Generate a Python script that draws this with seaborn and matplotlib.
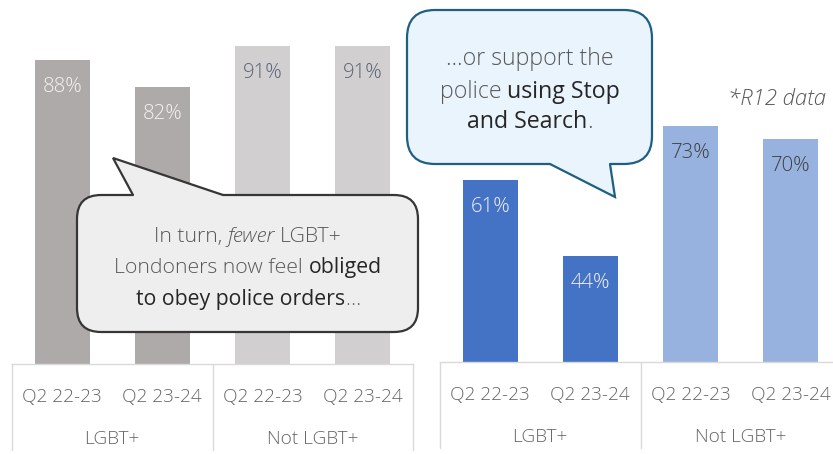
import matplotlib
matplotlib.use("Agg")
import matplotlib.pyplot as plt
import seaborn as sns
import pandas as pd
from matplotlib.patches import FancyBboxPatch, Polygon
from matplotlib.transforms import blended_transform_factory

# ---------------- data ----------------
categories = ["Q2 22-23", "Q2 23-24", "Q2 22-23", "Q2 23-24"]
groups = ["LGBT+", "LGBT+", "Not LGBT+", "Not LGBT+"]
group_names = ["LGBT+", "Not LGBT+"]
obey_values = [88, 82, 91, 91]          # feel obliged to obey police orders
stop_search_values = [61, 44, 73, 70]   # support police using Stop and Search
footnote = "*R12 data"

# ---------------- styling ----------------
sns.set_theme(style="white")
FONT = ["Open Sans", "DejaVu Sans"]
plt.rcParams["font.family"] = FONT

W, H = 833, 454
fig = plt.figure(figsize=(W / 100, H / 100), dpi=100)
renderer = fig.canvas.get_renderer()

STYLES = {
    "n": dict(fontweight="light", fontstyle="normal", color="#595959"),
    "i": dict(fontweight="light", fontstyle="italic", color="#595959"),
    "b": dict(fontweight="normal", fontstyle="normal", color="#262626"),
}


def measure(ax, s, size, **kw):
    t = ax.text(0, 0, s, fontsize=size, **kw)
    w = t.get_window_extent(renderer).width
    t.remove()
    return w


def px_axes(left, right, bottom_y, height):
    return fig.add_axes([left / W, (H - bottom_y) / H, (right - left) / W, height / H])


ax1 = px_axes(12, 413, 364, 360)
ax2 = px_axes(440, 841, 362, 360)

# fit sizes of labels
tick_size = 10 * 80 / measure(ax1, "Q2 22-23", 10, fontweight="light")
val_size = 10 * 40 / measure(ax1, "88%", 10, fontweight="light")


def draw_panel(ax, values, colors, label_colors, ymin):
    keys = [f"{g} {c}" for g, c in zip(groups, categories)]
    df = pd.DataFrame({"key": keys, "value": values})
    sns.barplot(data=df, x="key", y="value", hue="key", order=keys, hue_order=keys,
                palette=dict(zip(keys, colors)), legend=False, width=0.55,
                saturation=1, ax=ax, edgecolor="none")
    ax.set_ylim(ymin, ymin + 80)
    ax.set_xlim(-0.5, 3.5)
    ax.set_xticks([])
    ax.set_yticks([])
    ax.set_xlabel("")
    ax.set_ylabel("")
    for sp in ["top", "left", "right"]:
        ax.spines[sp].set_visible(False)
    ax.spines["bottom"].set_color("#d9d9d9")
    ax.spines["bottom"].set_linewidth(1.0)
    ax.patch.set_alpha(0)

    hpx = 360.0
    tr = blended_transform_factory(ax.transData, ax.transAxes)
    for i, (v, lc) in enumerate(zip(values, label_colors)):
        ax.annotate(f"{v}%", xy=(i, v), xytext=(0, -32), textcoords="offset pixels",
                    ha="center", va="baseline", fontsize=val_size,
                    fontweight="light", color=lc)
        ax.text(i, -38 / hpx, categories[i], transform=tr, ha="center",
                va="baseline", fontsize=tick_size, fontweight="light", color="#666666")
    for j, g in enumerate(group_names):
        ax.text(2 * j + 0.5, -80 / hpx, g, transform=tr, ha="center",
                va="baseline", fontsize=tick_size, fontweight="light", color="#666666")
    for x in [-0.5, 1.5, 3.5]:
        ax.plot([x, x], [0, -86 / hpx], transform=tr, color="#d9d9d9", lw=1.0,
                clip_on=False)


draw_panel(ax1, obey_values, ["#aeaaa9", "#aeaaa9", "#d1cfd0", "#d1cfd0"],
           ["#f2f2f2", "#f2f2f2", "#5b6477", "#5b6477"], 20.4)
draw_panel(ax2, stop_search_values, ["#4472c4", "#4472c4", "#98b2e0", "#98b2e0"],
           ["#f2f2f2", "#f2f2f2", "#404040", "#404040"], 20.5)

# ---------------- overlay (callouts) ----------------
ov = fig.add_axes([0, 0, 1, 1])
ov.set_xlim(0, W)
ov.set_ylim(H, 0)
ov.axis("off")
ov.patch.set_alpha(0)


def bubble(x0, y0, x1, y1, r, base, tip, face, edge, lw):
    box = FancyBboxPatch((x0, y0), x1 - x0, y1 - y0,
                         boxstyle=f"round,pad=0,rounding_size={r}",
                         fc=face, ec=edge, lw=lw, zorder=2)
    ov.add_patch(box)
    (bx1, by), (bx2, _) = base
    inward = 4 if tip[1] < by else -4
    poly = Polygon([(bx1, by + inward), (bx1, by), tip, (bx2, by), (bx2, by + inward)],
                   closed=True, fc=face, ec="none", zorder=3)
    ov.add_patch(poly)
    ov.plot([bx1, tip[0], bx2], [by, tip[1], by], color=edge, lw=lw, zorder=4,
            solid_joinstyle="miter")


def line_width(pieces, size):
    sp = measure(ov, "x x", size, **STYLES["n"]) - measure(ov, "xx", size, **STYLES["n"])
    total = 0
    widths = []
    for k, (txt, st, gap) in enumerate(pieces):
        w = measure(ov, txt, size, **STYLES[st])
        widths.append(w)
        total += w + (sp if (gap and k > 0) else 0)
    return total, widths, sp


def rich_line(cx, y, pieces, size):
    total, widths, sp = line_width(pieces, size)
    x = cx - total / 2
    for k, ((txt, st, gap), w) in enumerate(zip(pieces, widths)):
        if gap and k > 0:
            x += sp
        ov.text(x, y, txt, ha="left", va="baseline", fontsize=size, zorder=5, **STYLES[st])
        x += w


# grey callout
bubble(77, 195, 418, 332, 24, [(133, 195), (223, 195)], (113, 158),
       "#eeeeee", "#363636", 1.6)
grey_lines = [
    [("In turn,", "n", False), ("fewer", "i", True), ("LGBT+", "n", True)],
    [("Londoners now feel", "n", False), ("obliged", "b", True)],
    [("to obey police orders", "b", False), ("\u2026", "n", False)],
]
gsize = 10 * 268 / line_width(grey_lines[1], 10)[0]
for pieces, yb in zip(grey_lines, [242, 273, 305]):
    rich_line(248, yb, pieces, gsize)

# blue callout
bubble(407, 10, 652, 164, 28, [(550, 164), (610, 164)], (615, 197),
       "#eaf4fc", "#1f5f80", 1.6)
blue_lines = [
    [("\u2026or support the", "n", False)],
    [("police", "n", False), ("using Stop", "b", True)],
    [("and Search", "b", False), (".", "n", False)],
]
bsize = 10 * 180 / line_width(blue_lines[1], 10)[0]
for pieces, yb in zip(blue_lines, [65, 98, 128]):
    rich_line(530, yb, pieces, bsize)

# footnote
fsize = 10 * 98 / measure(ov, footnote, 10, **STYLES["i"])
ov.text(777, 105, footnote, ha="center", va="baseline", fontsize=fsize,
        fontweight="light", fontstyle="italic", color="#595959")

fig.savefig("out.png", dpi=100)
